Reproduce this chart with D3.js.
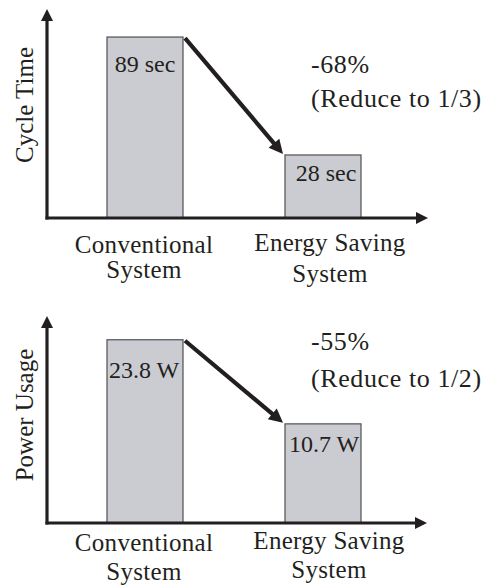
<!DOCTYPE html>
<html>
<head>
<meta charset="utf-8">
<script src="https://cdn.jsdelivr.net/npm/d3@7"></script>
<style>
  html, body { margin: 0; padding: 0; background: #fff; }
  text { font-family: "Liberation Serif", "Times New Roman", serif; fill: #231f20; }
</style>
</head>
<body>
<div id="chart"></div>
<script>
// categories (two-line labels)
const categories = ["Conventional", "Energy Saving"];
const categorySub = ["System", "System"];

// series values
const cycleTime = [89, 28];
const powerUsage = [23.8, 10.7];

// text
const cycleLabels = ["89 sec", "28 sec"];
const powerLabels = ["23.8 W", "10.7 W"];
const cycleNote = ["-68%", "(Reduce to 1/3)"];
const powerNote = ["-55%", "(Reduce to 1/2)"];

const width = 488, height = 586;
const ink = "#231f20";

const svg = d3.select("#chart").append("svg")
    .attr("width", width)
    .attr("height", height);

// draws a thick line with a filled triangular head at (x2, y2)
function arrow(g, x1, y1, x2, y2, len = 12, half = 6, sw = 3.2) {
    const dx = x2 - x1, dy = y2 - y1;
    const d = Math.hypot(dx, dy);
    const ux = dx / d, uy = dy / d;
    const bx = x2 - ux * len, by = y2 - uy * len;
    g.append("line")
        .attr("x1", x1).attr("y1", y1)
        .attr("x2", x2 - ux * (len - 2)).attr("y2", y2 - uy * (len - 2))
        .attr("stroke", ink)
        .attr("stroke-width", sw);
    g.append("path")
        .attr("d", `M${x2},${y2}L${bx - uy * half},${by + ux * half}L${bx + uy * half},${by - ux * half}Z`)
        .attr("fill", ink);
}

function drawPanel(cfg) {
    const g = svg.append("g");

    const x = d3.scaleBand()
        .domain(categories)
        .range(cfg.xRange)
        .paddingInner(0.573)
        .paddingOuter(0);

    const y = d3.scaleLinear()
        .domain(cfg.yDomain)
        .range([cfg.base, cfg.top]);

    const data = categories.map((c, i) => ({ cat: c, sub: categorySub[i], value: cfg.values[i], label: cfg.labels[i], i }));

    // bars
    g.selectAll("rect.bar")
        .data(data)
        .join("rect")
        .attr("class", "bar")
        .attr("x", d => x(d.cat))
        .attr("y", d => y(d.value))
        .attr("width", x.bandwidth())
        .attr("height", d => cfg.base - y(d.value))
        .attr("fill", "#cbccd1")
        .attr("stroke", "#505050")
        .attr("stroke-width", 1.2);

    // value labels inside the bars
    g.selectAll("text.val")
        .data(data)
        .join("text")
        .attr("class", "val")
        .attr("x", d => cfg.valAnchor === "start" ? x(d.cat) + cfg.valDx[d.i] : x(d.cat) + x.bandwidth() / 2 + cfg.valDx[d.i])
        .attr("y", d => y(d.value) + cfg.valDy[d.i])
        .attr("text-anchor", cfg.valAnchor)
        .attr("font-size", 24)
        .text(d => d.label);

    // axes with arrow heads
    const x0 = cfg.axisX;
    arrow(g, x0, cfg.base + 1.5, x0, cfg.top);
    arrow(g, x0 - 1.5, cfg.base, cfg.xEnd, cfg.base);

    // reduction arrow from bar 1 to bar 2
    const a = data[0], b = data[1];
    arrow(g, x(a.cat) + x.bandwidth() + 2, y(a.value) + 1, x(b.cat) - 2, y(b.value) - 1, 14, 7, 4.2);

    // category labels
    const cat = g.selectAll("g.cat")
        .data(data)
        .join("g")
        .attr("class", "cat")
        .attr("transform", d => `translate(${x(d.cat) + x.bandwidth() / 2 + cfg.catDx[d.i]},${cfg.base})`);
    cat.append("text")
        .attr("text-anchor", "middle")
        .attr("y", d => cfg.catDy[d.i][0])
        .attr("font-size", 25)
        .attr("letter-spacing", 0.3)
        .text(d => d.cat);
    cat.append("text")
        .attr("text-anchor", "middle")
        .attr("y", d => cfg.catDy[d.i][1])
        .attr("font-size", 25)
        .attr("letter-spacing", 0.3)
        .text(d => d.sub);

    // y axis title
    g.append("text")
        .attr("transform", `translate(33,${cfg.titleY}) rotate(-90)`)
        .attr("text-anchor", "middle")
        .attr("font-size", 25)
        .text(cfg.title);

    // reduction note
    g.selectAll("text.note")
        .data(cfg.note)
        .join("text")
        .attr("class", "note")
        .attr("x", 311)
        .attr("y", (d, i) => cfg.noteY[i])
        .attr("font-size", 26)
        .attr("letter-spacing", 0.6)
        .text(d => d);
}

drawPanel({
    title: "Cycle Time",
    titleY: 105,
    values: cycleTime,
    labels: cycleLabels,
    note: cycleNote,
    noteY: [73, 107],
    xRange: [107, 361],
    yDomain: [-4.6, 103.5],
    base: 218,
    top: 9,
    axisX: 47,
    xEnd: 428,
    valAnchor: "middle",
    valDx: [0, 3],
    valDy: [35, 26],
    catDx: [-1, 7],
    catDy: [[35, 60], [33, 64]]
});

drawPanel({
    title: "Power Usage",
    titleY: 415,
    values: powerUsage,
    labels: powerLabels,
    note: powerNote,
    noteY: [350, 387],
    xRange: [107, 361],
    yDomain: [-4.74, 27.5],
    base: 523,
    top: 316,
    axisX: 47,
    xEnd: 427,
    valAnchor: "start",
    valDx: [2, 4],
    valDy: [38, 28],
    catDx: [-1, 6],
    catDy: [[28, 57], [26, 55]]
});
</script>
</body>
</html>
